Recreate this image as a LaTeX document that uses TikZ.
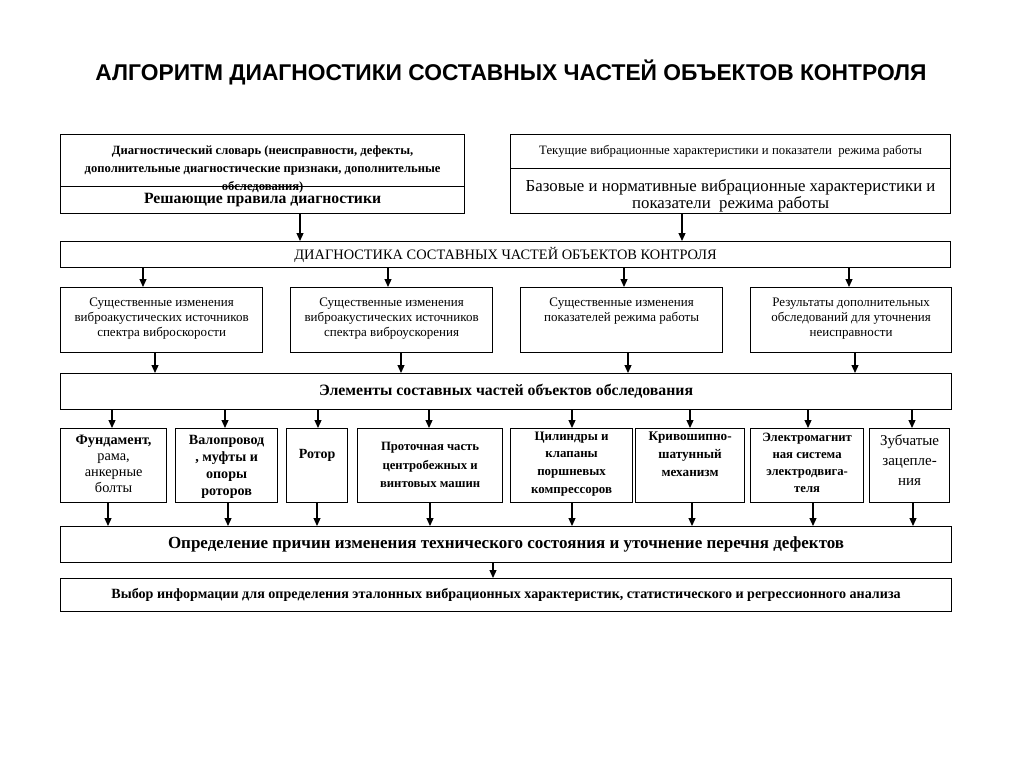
\documentclass[tikz,border=0pt]{standalone}
\usepackage{fontspec}
\setmainfont{Liberation Serif}
\newfontfamily\titlefont{Liberation Sans}
\usetikzlibrary{arrows.meta}
\newcommand{\tb}[4][0pt]{\parbox[c][#3][t]{#2}{\centering\vspace*{#1}#4\par}}
\tikzset{
  box/.style={draw, line width=1.2pt, inner sep=0pt, anchor=north west},
  arr/.style={line width=1.2pt, -{Triangle[length=8pt,width=7pt]}},
}
\begin{document}
\begin{tikzpicture}[x=1pt,y=-1pt]
\useasboundingbox (0,0) rectangle (1024,768);
\node[font=\titlefont\bfseries\fontsize{22.8}{26}\selectfont] (title) at (511,72) {АЛГОРИТМ ДИАГНОСТИКИ СОСТАВНЫХ ЧАСТЕЙ ОБЪЕКТОВ КОНТРОЛЯ};

% top left
\node[box, minimum width=404pt, minimum height=52pt] (a1) at (60,134)
  {\tb[11pt]{402pt}{52pt}{\bfseries\fontsize{12.6}{18}\selectfont Диагностический словарь (неисправности, дефекты,\\ дополнительные диагностические признаки, дополнительные\\ обследования)}};
\node[box, minimum width=404pt, minimum height=27pt, font=\bfseries\fontsize{15.7}{18}\selectfont] (a2) at (60,186) {Решающие правила диагностики};
% top right
\node[box, minimum width=440pt, minimum height=34pt, font=\fontsize{12.8}{15}\selectfont] (b1) at (510,134)
  {Текущие вибрационные характеристики и показатели\ \ режима работы};
\node[box, minimum width=440pt, minimum height=45pt] (b2) at (510,168)
  {\tb[11pt]{436pt}{45pt}{\fontsize{16.8}{17}\selectfont Базовые и нормативные вибрационные характеристики и\\ показатели\ \ режима работы}};

% diagnostics
\node[box, minimum width=890pt, minimum height=26pt, font=\fontsize{14.4}{16}\selectfont] (c) at (60,241) {ДИАГНОСТИКА СОСТАВНЫХ ЧАСТЕЙ ОБЪЕКТОВ КОНТРОЛЯ};

% row 2
\node[box, minimum width=202pt, minimum height=65pt] (s1) at (60,287)
  {\tb[10pt]{200pt}{65pt}{\fontsize{13}{15}\selectfont Существенные изменения\\ виброакустических источников\\ спектра виброскорости}};
\node[box, minimum width=202pt, minimum height=65pt] (s2) at (290,287)
  {\tb[10pt]{200pt}{65pt}{\fontsize{13}{15}\selectfont Существенные изменения\\ виброакустических источников\\ спектра виброускорения}};
\node[box, minimum width=202pt, minimum height=65pt] (s3) at (520,287)
  {\tb[10pt]{200pt}{65pt}{\fontsize{13}{15}\selectfont Существенные изменения\\ показателей режима работы}};
\node[box, minimum width=201pt, minimum height=65pt] (s4) at (750,287)
  {\tb[10pt]{199pt}{65pt}{\fontsize{13}{15}\selectfont Результаты дополнительных\\ обследований для уточнения\\ неисправности}};

% elements
\node[box, minimum width=891pt, minimum height=36pt, font=\bfseries\fontsize{15.8}{18}\selectfont] (d) at (60,373) {Элементы составных частей объектов обследования};

% row 3
\node[box, minimum width=106pt, minimum height=74pt] (r1) at (60,428)
  {\tb[7pt]{104pt}{74pt}{\fontsize{14.3}{15.8}\selectfont\textbf{Фундамент,}\\ рама,\\ анкерные\\ болты}};
\node[box, minimum width=102pt, minimum height=74pt] (r2) at (175,428)
  {\tb[7pt]{100pt}{74pt}{\bfseries\fontsize{14.1}{16.8}\selectfont Валопровод\\ , муфты и\\ опоры\\ роторов}};
\node[box, minimum width=61pt, minimum height=74pt] (r3) at (286,428)
  {\tb[21pt]{59pt}{74pt}{\bfseries\fontsize{14}{15}\selectfont Ротор}};
\node[box, minimum width=145pt, minimum height=74pt] (r4) at (357,428)
  {\tb[14pt]{143pt}{74pt}{\bfseries\fontsize{12.7}{18.5}\selectfont Проточная часть\\ центробежных и\\ винтовых машин}};
\node[box, minimum width=122pt, minimum height=74pt] (r5) at (510,428)
  {\tb[3pt]{120pt}{74pt}{\bfseries\fontsize{12.9}{17.7}\selectfont Цилиндры и\\ клапаны\\ поршневых\\ компрессоров}};
\node[box, minimum width=109pt, minimum height=74pt] (r6) at (635,428)
  {\tb[3pt]{107pt}{74pt}{\bfseries\fontsize{13.2}{17.9}\selectfont Кривошипно-\\ шатунный\\ механизм}};
\node[box, minimum width=113pt, minimum height=74pt] (r7) at (750,428)
  {\tb[4pt]{111pt}{74pt}{\bfseries\fontsize{12.7}{17}\selectfont Электромагнит\\ ная система\\ электродвига-\\ теля}};
\node[box, minimum width=80pt, minimum height=74pt] (r8) at (869,428)
  {\tb[6pt]{78pt}{74pt}{\fontsize{15}{20}\selectfont Зубчатые\\ зацепле-\\ ния}};

% cause determination
\node[box, minimum width=891pt, minimum height=36pt, font=\bfseries\fontsize{17}{19}\selectfont] (e) at (60,526) {Определение причин изменения технического состояния и уточнение перечня дефектов};
% choice
\node[box, minimum width=891pt, minimum height=33pt, font=\bfseries\fontsize{14.1}{16}\selectfont] (f) at (60,578) {Выбор информации для определения эталонных вибрационных характеристик, статистического и регрессионного анализа};

% x positions
\foreach \n/\x in {xa/300, xb/682, c1/143, c2/388, c3/624, c4/849, d1/155, d2/401, d3/628, d4/855,
  t1/112, t2/225, t3/318, t4/429, t5/572, t6/690, t7/808, t8/912,
  u1/108, u2/228, u3/317, u4/430, u5/572, u6/692, u7/813, u8/913, xe/493}
  \coordinate (\n) at (\x,0);

\draw[arr] (a2.south -| xa) -- (c.north -| xa);
\draw[arr] (b2.south -| xb) -- (c.north -| xb);
\draw[arr] (c.south -| c1) -- (s1.north -| c1);
\draw[arr] (c.south -| c2) -- (s2.north -| c2);
\draw[arr] (c.south -| c3) -- (s3.north -| c3);
\draw[arr] (c.south -| c4) -- (s4.north -| c4);
\draw[arr] (s1.south -| d1) -- (d.north -| d1);
\draw[arr] (s2.south -| d2) -- (d.north -| d2);
\draw[arr] (s3.south -| d3) -- (d.north -| d3);
\draw[arr] (s4.south -| d4) -- (d.north -| d4);
\foreach \i in {1,...,8} {
  \draw[arr] (d.south -| t\i) -- (r\i.north -| t\i);
  \draw[arr] (r\i.south -| u\i) -- (e.north -| u\i);
}
\draw[arr] (e.south -| xe) -- (f.north -| xe);
\end{tikzpicture}
\end{document}
